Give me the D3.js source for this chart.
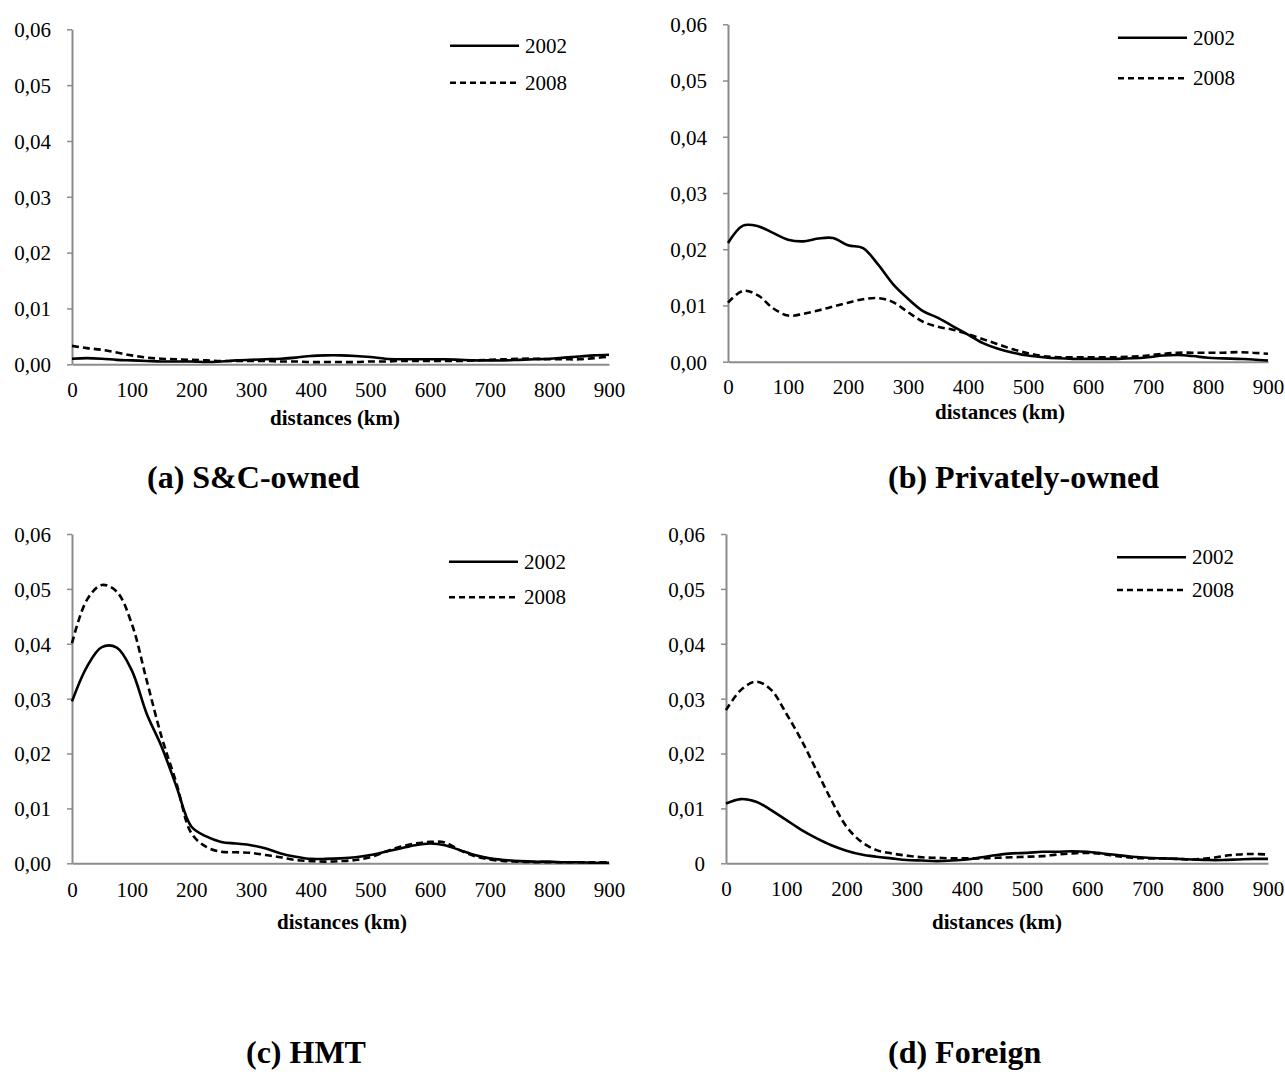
<!DOCTYPE html>
<html>
<head>
<meta charset="utf-8">
<script src="https://cdn.jsdelivr.net/npm/d3@7"></script>
<style>
  html, body { margin: 0; padding: 0; background: #ffffff; }
  svg { display: block; }
  svg text { font-family: "Liberation Serif", "Times New Roman", serif; }
</style>
</head>
<body>
<svg id="chart" width="1285" height="1077"></svg>
<script>
// Distance grid (km) shared by every density curve
const distances = [0, 25, 50, 75, 100, 125, 150, 175, 200, 225, 250, 275, 300, 325, 350, 375, 400, 425, 450,
  475, 500, 525, 550, 575, 600, 625, 650, 675, 700, 725, 750, 775, 800, 825, 850, 875, 900];

// (a) S&C-owned
const scOwned2002 = [0.0010, 0.0011, 0.0010, 0.0008, 0.0007, 0.0006, 0.0005, 0.0005, 0.0005, 0.0004, 0.0005,
  0.0007, 0.0008, 0.0009, 0.0010, 0.0012, 0.0015, 0.0016, 0.0016, 0.0015, 0.0013, 0.0010, 0.0009, 0.0009,
  0.0009, 0.0009, 0.0008, 0.0007, 0.0007, 0.0007, 0.0008, 0.0009, 0.0010, 0.0012, 0.0014, 0.0016, 0.0017];
const scOwned2008 = [0.0033, 0.0029, 0.0026, 0.0021, 0.0016, 0.0012, 0.0010, 0.0009, 0.0008, 0.0007, 0.0006,
  0.0006, 0.0006, 0.0006, 0.0005, 0.0005, 0.0004, 0.0004, 0.0004, 0.0004, 0.0005, 0.0005, 0.0006, 0.0006,
  0.0006, 0.0006, 0.0006, 0.0007, 0.0008, 0.0009, 0.0010, 0.0010, 0.0009, 0.0009, 0.0009, 0.0011, 0.0014];

// (b) Privately-owned
const private2002 = [0.0211, 0.0242, 0.0241, 0.0229, 0.0217, 0.0214, 0.0219, 0.0220, 0.0207, 0.0202, 0.0173,
  0.0138, 0.0112, 0.0090, 0.0078, 0.0063, 0.0048, 0.0033, 0.0023, 0.0016, 0.0011, 0.0008, 0.0006, 0.0005,
  0.0005, 0.0005, 0.0005, 0.0006, 0.0008, 0.0011, 0.0012, 0.0010, 0.0007, 0.0006, 0.0005, 0.0004, 0.0002];
const private2008 = [0.0105, 0.0126, 0.0118, 0.0095, 0.0082, 0.0085, 0.0091, 0.0098, 0.0105, 0.0111, 0.0113,
  0.0106, 0.0088, 0.0071, 0.0062, 0.0057, 0.0049, 0.0040, 0.0031, 0.0022, 0.0015, 0.0010, 0.0008, 0.0008,
  0.0008, 0.0008, 0.0008, 0.0009, 0.0011, 0.0014, 0.0016, 0.0016, 0.0016, 0.0016, 0.0017, 0.0016, 0.0014];

// (c) HMT
const hmt2002 = [0.0295, 0.0358, 0.0394, 0.0393, 0.0352, 0.0273, 0.0213, 0.0140, 0.0067, 0.0049, 0.0039,
  0.0036, 0.0033, 0.0027, 0.0018, 0.0012, 0.0008, 0.0008, 0.0009, 0.0011, 0.0015, 0.0021, 0.0027, 0.0033,
  0.0036, 0.0033, 0.0024, 0.0015, 0.0009, 0.0006, 0.0004, 0.0003, 0.0003, 0.0002, 0.0002, 0.0001, 0.0001];
const hmt2008 = [0.0401, 0.0480, 0.0507, 0.0495, 0.0437, 0.0334, 0.0231, 0.0146, 0.0055, 0.0030, 0.0021,
  0.0020, 0.0019, 0.0015, 0.0011, 0.0006, 0.0004, 0.0003, 0.0004, 0.0006, 0.0011, 0.0021, 0.0030, 0.0036,
  0.0039, 0.0038, 0.0024, 0.0013, 0.0007, 0.0004, 0.0003, 0.0002, 0.0002, 0.0002, 0.0002, 0.0002, 0.0002];

// (d) Foreign
const foreign2002 = [0.0109, 0.0117, 0.0112, 0.0097, 0.0079, 0.0061, 0.0046, 0.0033, 0.0023, 0.0016, 0.0012,
  0.0009, 0.0006, 0.0005, 0.0004, 0.0005, 0.0007, 0.0011, 0.0015, 0.0018, 0.0019, 0.0021, 0.0021, 0.0022,
  0.0021, 0.0018, 0.0015, 0.0012, 0.0010, 0.0009, 0.0008, 0.0007, 0.0006, 0.0006, 0.0007, 0.0008, 0.0008];
const foreign2008 = [0.0279, 0.0316, 0.0331, 0.0316, 0.0273, 0.0225, 0.0170, 0.0115, 0.0067, 0.0039, 0.0024,
  0.0018, 0.0014, 0.0011, 0.0010, 0.0009, 0.0009, 0.0009, 0.0010, 0.0011, 0.0012, 0.0013, 0.0016, 0.0018,
  0.0019, 0.0017, 0.0013, 0.0010, 0.0009, 0.0009, 0.0008, 0.0007, 0.0009, 0.0013, 0.0016, 0.0017, 0.0016];

// Axis ticks and labels
const xTickValues = [0, 100, 200, 300, 400, 500, 600, 700, 800, 900];
const yTickValues = [0, 0.01, 0.02, 0.03, 0.04, 0.05, 0.06];
const yTickLabels = ["0,00", "0,01", "0,02", "0,03", "0,04", "0,05", "0,06"];
const yTickLabelsPlainZero = ["0", "0,01", "0,02", "0,03", "0,04", "0,05", "0,06"];
const seriesNames = ["2002", "2008"];
const panelTitles = ["(a) S&C-owned", "(b) Privately-owned", "(c) HMT", "(d) Foreign"];
const xAxisTitle = "distances (km)";

// Frame geometry of each panel
const panels = [
  { title: panelTitles[0], s2002: scOwned2002, s2008: scOwned2008, yLabels: yTickLabels,
    x0: 72, x1: 609, yBottom: 364.3, yTop: 29.3, xLabelY: 397, axisTitle: [335, 425],
    legend: [450, 45.7, 82.7], titlePos: [147, 488] },
  { title: panelTitles[1], s2002: private2002, s2008: private2008, yLabels: yTickLabels,
    x0: 728, x1: 1268, yBottom: 361.7, yTop: 24.3, xLabelY: 394, axisTitle: [1000, 419],
    legend: [1118, 37.7, 78.3], titlePos: [888, 488] },
  { title: panelTitles[2], s2002: hmt2002, s2008: hmt2008, yLabels: yTickLabels,
    x0: 72, x1: 609, yBottom: 863.3, yTop: 534, xLabelY: 897, axisTitle: [342, 929],
    legend: [449, 561.7, 597.3], titlePos: [246, 1063] },
  { title: panelTitles[3], s2002: foreign2002, s2008: foreign2008, yLabels: yTickLabelsPlainZero,
    x0: 726, x1: 1268, yBottom: 863.3, yTop: 534, xLabelY: 896, axisTitle: [997, 929],
    legend: [1117, 557.3, 590], titlePos: [888, 1063] }
];

const svg = d3.select("#chart");
svg.append("rect").attr("width", 1285).attr("height", 1077).attr("fill", "#ffffff");

const axisGrey = "#8c8c8c";
const dashPattern = "7,4";
const labelSize = 21;

panels.forEach(p => {
  const g = svg.append("g");
  const x = d3.scaleLinear().domain([0, 900]).range([p.x0, p.x1]);
  const y = d3.scaleLinear().domain([0, 0.06]).range([p.yBottom, p.yTop]);

  // Y axis with short outward ticks
  const yAxis = d3.axisLeft(y).tickValues(yTickValues).tickSize(5).tickSizeOuter(0)
    .tickFormat((d, i) => p.yLabels[i]);
  const yg = g.append("g").attr("transform", `translate(${p.x0},0)`).call(yAxis)
    .attr("font-family", null).attr("font-size", null);
  yg.select(".domain").attr("stroke", axisGrey).attr("stroke-width", 2);
  yg.selectAll(".tick line").attr("stroke", axisGrey).attr("stroke-width", 1.5);
  yg.selectAll(".tick text").style("font-size", labelSize + "px").attr("fill", "#000")
    .attr("x", -21).attr("dy", "0.35em");

  // X axis: baseline only, labels underneath
  const xAxis = d3.axisBottom(x).tickValues(xTickValues).tickSize(0).tickSizeOuter(0)
    .tickFormat(d3.format("d"));
  const xg = g.append("g").attr("transform", `translate(0,${p.yBottom})`).call(xAxis)
    .attr("font-family", null).attr("font-size", null);
  xg.select(".domain").attr("stroke", axisGrey).attr("stroke-width", 2);
  xg.selectAll(".tick text").style("font-size", labelSize + "px").attr("fill", "#000")
    .attr("y", p.xLabelY - p.yBottom).attr("dy", 0);

  // Density curves
  const line = d3.line()
    .x((d, i) => x(distances[i]))
    .y(d => y(d))
    .curve(d3.curveCatmullRom.alpha(0.5));
  g.append("path").datum(p.s2002).attr("d", line)
    .attr("fill", "none").attr("stroke", "#000").attr("stroke-width", 2.6);
  g.append("path").datum(p.s2008).attr("d", line)
    .attr("fill", "none").attr("stroke", "#000").attr("stroke-width", 2.6)
    .attr("stroke-dasharray", dashPattern);

  // Legend
  const [lx, ly1, ly2] = p.legend;
  [ly1, ly2].forEach((ly, i) => {
    g.append("line").attr("x1", lx).attr("x2", lx + 69).attr("y1", ly).attr("y2", ly)
      .attr("stroke", "#000").attr("stroke-width", 2.6)
      .attr("stroke-dasharray", i === 1 ? "6,4" : null);
    g.append("text").attr("x", lx + 75).attr("y", ly + 7)
      .style("font-size", labelSize + "px").text(seriesNames[i]);
  });

  // Axis title
  g.append("text").attr("x", p.axisTitle[0]).attr("y", p.axisTitle[1])
    .attr("text-anchor", "middle").style("font-size", "21px").style("font-weight", "bold")
    .text(xAxisTitle);

  // Panel caption
  svg.append("text").attr("x", p.titlePos[0]).attr("y", p.titlePos[1])
    .style("font-size", "32px").style("font-weight", "bold").text(p.title);
});
</script>
</body>
</html>
